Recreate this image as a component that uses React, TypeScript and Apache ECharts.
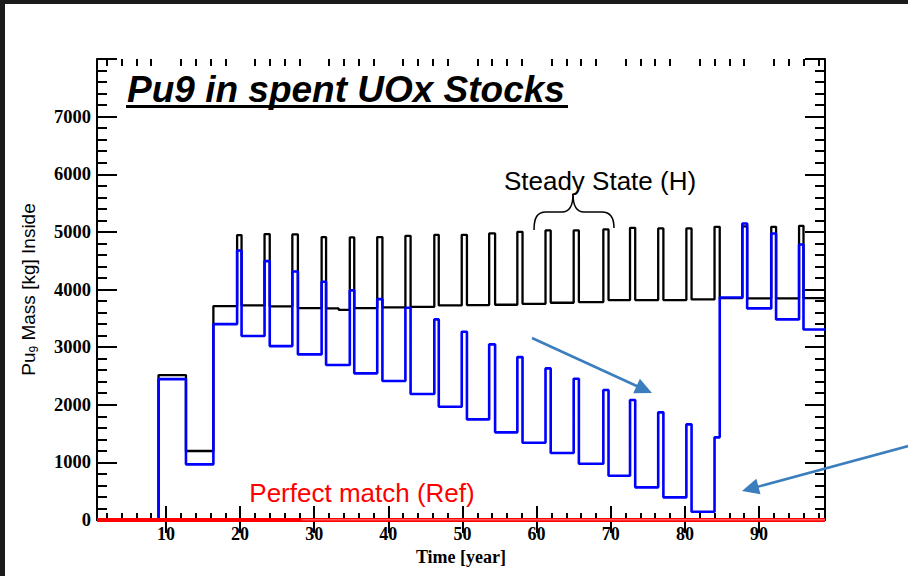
import React, { useEffect, useRef } from "react";
import * as echarts from "echarts";

// ---- axis ranges & ticks ----
const X_MIN = 0.7;
const X_MAX = 98.9;
const Y_MIN = 0;
const Y_MAX = 8000;
const xMajorTicks = [10, 20, 30, 40, 50, 60, 70, 80, 90];
const xMinorTicks = [2, 4, 6, 8, 12, 14, 16, 18, 22, 24, 26, 28, 32, 34, 36, 38, 42, 44, 46, 48, 52, 54, 56, 58, 62, 64, 66, 68, 72, 74, 76, 78, 82, 84, 86, 88, 92, 94, 96, 98];

// ---- initial phase (change year, value held from there) ----
const preYears = [0.7, 9.0, 12.7, 16.4];
const steadyPre = [0, 2515, 1197, 3712];
const simPre = [0, 2445, 966, 3400];

// ---- periodic unloading spikes ----
const spikeOn = [19.6, 23.3, 27.05, 31.0, 34.8, 38.5, 42.3, 46.2, 49.9, 53.6, 57.4, 61.2, 65.0, 69.0, 72.6, 76.4, 80.2, 84.0, 87.75, 91.65, 95.4];
const spikeOff = [20.2, 24.0, 27.8, 31.6, 35.4, 39.2, 43.0, 46.8, 50.6, 54.4, 58.1, 61.9, 65.7, 69.7, 73.3, 77.1, 80.9, 84.7, 88.4, 92.3, 96.0];
const steadyPeak = [4944, 4961, 4955, 4909, 4904, 4909, 4932, 4949, 4949, 4973, 5001, 5025, 5025, 5042, 5071, 5060, 5060, 5088, 5095, 5088, 5105];
const steadyBase = [3724, 3707, 3677, 3672, 3677, 3690, 3700, 3724, 3729, 3735, 3752, 3770, 3781, 3816, 3816, 3816, 3827, 3850, 3845, 3845, 3850];
const steadyExtraYears = [33.3];
const steadyExtraValues = [3648];
const simPeak = [4678, 4493, 4313, 4134, 3984, 3833, 3683, 3481, 3267, 3047, 2827, 2631, 2451, 2255, 2082, 1868, 1660, 1434, 5146, 4973, 4782];
const simBase = [3192, 3018, 2874, 2689, 2545, 2411, 2186, 1966, 1746, 1521, 1341, 1162, 977, 769, 567, 393, 144, 3862, 3672, 3481, 3307];

// ---- reference (perfect match) ----
const refYears = [0.7, 98.9];
const refValues = [0, 0];
const refGapYears = [28.3, 98.9];

function buildSteps(
  pre: number[],
  peak: number[],
  base: number[],
  extraYears: number[] = [],
  extraValues: number[] = []
): [number, number][] {
  const pts: [number, number][] = [];
  preYears.forEach((t, i) => pts.push([t, pre[i]]));
  spikeOn.forEach((t, i) => {
    pts.push([t, peak[i]]);
    pts.push([spikeOff[i], base[i]]);
  });
  extraYears.forEach((t, i) => pts.push([t, extraValues[i]]));
  pts.sort((a, b) => a[0] - b[0]);
  pts.push([X_MAX, pts[pts.length - 1][1]]);
  return pts;
}

function arrow(x1: number, y1: number, x2: number, y2: number, color: string) {
  const dx = x2 - x1;
  const dy = y2 - y1;
  const len = Math.sqrt(dx * dx + dy * dy);
  const ux = dx / len;
  const uy = dy / len;
  const hl = 17;
  const hw = 8;
  const bx = x2 - ux * hl;
  const by = y2 - uy * hl;
  return [
    { type: "line", shape: { x1, y1, x2: bx + ux * 2, y2: by + uy * 2 }, style: { stroke: color, lineWidth: 2.5 }, z: 100 },
    {
      type: "polygon",
      shape: { points: [[x2, y2], [bx - uy * hw, by + ux * hw], [bx + uy * hw, by - ux * hw]] },
      style: { fill: color },
      z: 100,
    },
  ];
}

function brace() {
  const st = { stroke: "#000", fill: null, lineWidth: 1.5 };
  return [
    { type: "bezierCurve", shape: { x1: 534, y1: 230, cpx1: 534, cpy1: 218, cpx2: 537, cpy2: 212, x2: 546, y2: 212 }, style: st, z: 100 },
    { type: "line", shape: { x1: 546, y1: 212, x2: 562, y2: 212 }, style: st, z: 100 },
    { type: "bezierCurve", shape: { x1: 562, y1: 212, cpx1: 570, cpy1: 212, cpx2: 573, cpy2: 206, x2: 573, y2: 194 }, style: st, z: 100 },
    { type: "bezierCurve", shape: { x1: 573, y1: 194, cpx1: 573, cpy1: 206, cpx2: 576, cpy2: 212, x2: 584, y2: 212 }, style: st, z: 100 },
    { type: "line", shape: { x1: 584, y1: 212, x2: 602, y2: 212 }, style: st, z: 100 },
    { type: "bezierCurve", shape: { x1: 602, y1: 212, cpx1: 611, cpy1: 212, cpx2: 614, cpy2: 218, x2: 614, y2: 228 }, style: st, z: 100 },
  ];
}

const serifBold = { fontFamily: "Liberation Serif", fontWeight: "bold" as const, color: "#000" };
const plain = (v: number) => String(v);

export default function App() {
  const ref = useRef<HTMLDivElement>(null);
  useEffect(() => {
    document.body.style.margin = "0";
    const chart = echarts.init(ref.current!, null, { renderer: "svg" });
    const arrowColor = "#3b7ebe";
    const gridRect = { left: 97, right: 83, top: 59, bottom: 56 };
    const axisLine = { show: true, lineStyle: { color: "#000", width: 2 } };
    const tickStyle = { color: "#000", width: 2 };
    const option: any = {
      animation: false,
      backgroundColor: "#fff",
      grid: [gridRect, gridRect],
      xAxis: [
        {
          gridIndex: 0,
          type: "value",
          position: "bottom",
          min: X_MIN,
          max: X_MAX,
          axisLine,
          axisTick: { show: true, inside: true, length: 14, customValues: xMajorTicks, lineStyle: tickStyle },
          axisLabel: { show: true, customValues: xMajorTicks, formatter: plain, margin: 5, fontSize: 18, ...serifBold },
          splitLine: { show: false },
          name: "Time [year]",
          nameLocation: "middle",
          nameGap: 23,
          nameTextStyle: { fontSize: 18, ...serifBold },
        },
        {
          gridIndex: 0,
          type: "value",
          position: "top",
          min: X_MIN,
          max: X_MAX,
          axisLine,
          axisTick: { show: true, inside: true, length: 13, customValues: xMajorTicks, lineStyle: tickStyle },
          axisLabel: { show: false },
          splitLine: { show: false },
        },
        {
          gridIndex: 1,
          type: "value",
          position: "bottom",
          min: X_MIN,
          max: X_MAX,
          axisLine: { show: false },
          axisTick: { show: true, inside: true, length: 7, customValues: xMinorTicks, lineStyle: tickStyle },
          axisLabel: { show: false },
          splitLine: { show: false },
        },
        {
          gridIndex: 1,
          type: "value",
          position: "top",
          min: X_MIN,
          max: X_MAX,
          axisLine: { show: false },
          axisTick: { show: true, inside: true, length: 7, customValues: xMinorTicks, lineStyle: tickStyle },
          axisLabel: { show: false },
          splitLine: { show: false },
        },
      ],
      yAxis: [
        {
          gridIndex: 0,
          type: "value",
          position: "left",
          min: Y_MIN,
          max: Y_MAX,
          interval: 1000,
          axisLine,
          axisTick: { show: true, inside: true, length: 20, lineStyle: tickStyle },
          minorTick: { show: true, splitNumber: 5, length: 10, lineStyle: tickStyle },
          axisLabel: { show: true, showMaxLabel: false, formatter: plain, margin: 6, fontSize: 18.5, ...serifBold },
          splitLine: { show: false },
          name: "{n|Pu}{s|9}{n| Mass [kg] Inside}",
          nameLocation: "middle",
          nameGap: 57,
          nameTextStyle: {
            rich: {
              n: { fontSize: 19, fontFamily: "Liberation Sans", color: "#000", lineHeight: 24 },
              s: { fontSize: 12, fontFamily: "Liberation Sans", color: "#000", lineHeight: 12, verticalAlign: "bottom" },
            },
          },
        },
        {
          gridIndex: 0,
          type: "value",
          position: "right",
          min: Y_MIN,
          max: Y_MAX,
          interval: 1000,
          axisLine,
          axisTick: { show: true, inside: true, length: 20, lineStyle: tickStyle },
          minorTick: { show: true, splitNumber: 5, length: 10, lineStyle: tickStyle },
          axisLabel: { show: false },
          splitLine: { show: false },
        },
        {
          gridIndex: 1,
          type: "value",
          position: "left",
          min: Y_MIN,
          max: Y_MAX,
          interval: 1000,
          show: false,
        },
      ],
      series: [
        {
          type: "line",
          name: "Steady State (H)",
          xAxisIndex: 0,
          yAxisIndex: 0,
          step: "end",
          symbol: "none",
          data: buildSteps(steadyPre, steadyPeak, steadyBase, steadyExtraYears, steadyExtraValues),
          lineStyle: { color: "#000", width: 2.3 },
          z: 3,
        },
        {
          type: "line",
          name: "Simulation",
          xAxisIndex: 0,
          yAxisIndex: 0,
          step: "end",
          symbol: "none",
          data: buildSteps(simPre, simPeak, simBase),
          lineStyle: { color: "#0000ff", width: 2.6 },
          z: 4,
        },
        {
          type: "line",
          name: "Perfect match (Ref)",
          xAxisIndex: 0,
          yAxisIndex: 0,
          symbol: "none",
          data: refYears.map((t, i) => [t, refValues[i]]),
          lineStyle: { color: "#ff0000", width: 4 },
          z: 5,
        },
        {
          type: "line",
          xAxisIndex: 0,
          yAxisIndex: 0,
          symbol: "none",
          data: refGapYears.map((t, i) => [t, refValues[i]]),
          lineStyle: { color: "#ffb0b0", width: 1 },
          z: 6,
        },
      ],
      graphic: [
        { type: "rect", shape: { x: 0, y: 0, width: 908, height: 4 }, style: { fill: "#1b1b1b" }, z: 200 },
        { type: "rect", shape: { x: 0, y: 0, width: 5, height: 576 }, style: { fill: "#1b1b1b" }, z: 200 },
        {
          type: "text",
          x: 127,
          y: 89,
          style: {
            text: "Pu9 in spent UOx Stocks",
            fontSize: 37,
            fontFamily: "Liberation Sans",
            fontWeight: "bold",
            fontStyle: "italic",
            fill: "#000",
            align: "left",
            verticalAlign: "middle",
          },
          z: 100,
        },
        { type: "rect", shape: { x: 126, y: 105, width: 442, height: 3 }, style: { fill: "#000" }, z: 100 },
        {
          type: "text",
          x: 600,
          y: 181,
          style: {
            text: "Steady State (H)",
            fontSize: 26,
            fontFamily: "Liberation Sans",
            fill: "#000",
            align: "center",
            verticalAlign: "middle",
          },
          z: 100,
        },
        ...brace(),
        {
          type: "text",
          x: 362,
          y: 493,
          style: {
            text: "Perfect match (Ref)",
            fontSize: 26,
            fontFamily: "Liberation Sans",
            fill: "#ff0000",
            align: "center",
            verticalAlign: "middle",
          },
          z: 100,
        },
        ...arrow(532, 338, 652, 393, arrowColor),
        ...arrow(912, 445, 742, 491, arrowColor),
      ],
    };
    chart.setOption(option);
    return () => chart.dispose();
  }, []);
  return (
    <div
      ref={ref}
      style={{ position: "absolute", left: 0, top: 0, width: 908, height: 576, background: "#fff" }}
    />
  );
}
